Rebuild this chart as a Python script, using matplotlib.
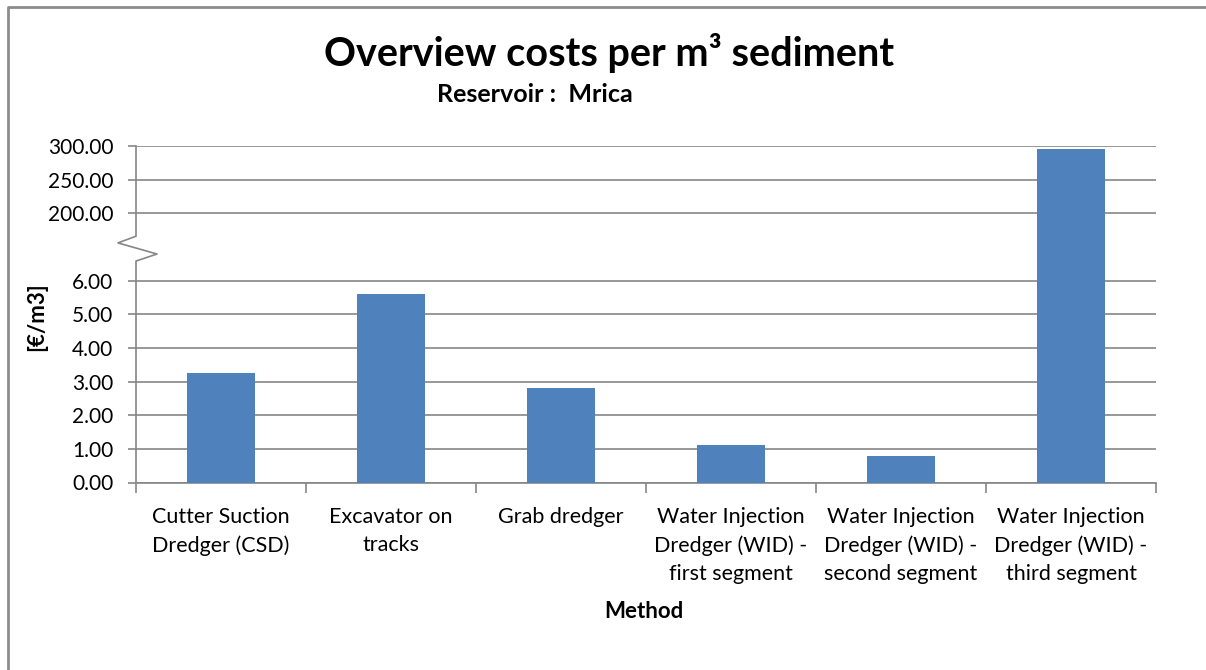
import numpy as np
import matplotlib
matplotlib.use("Agg")
import matplotlib.pyplot as plt
from matplotlib.lines import Line2D

# ---- data ----
categories = [
    "Cutter Suction\nDredger (CSD)",
    "Excavator on\ntracks",
    "Grab dredger",
    "Water Injection\nDredger (WID) -\nfirst segment",
    "Water Injection\nDredger (WID) -\nsecond segment",
    "Water Injection\nDredger (WID) -\nthird segment",
]
costs = [3.24, 5.60, 2.80, 1.12, 0.80, 295.0]
yticks = [0, 1, 2, 3, 4, 5, 6, 200, 250, 300]
ytick_labels = ["0.00", "1.00", "2.00", "3.00", "4.00", "5.00", "6.00",
                "200.00", "250.00", "300.00"]
title = "Overview costs per m³ sediment"
subtitle = "Reservoir :  Mrica"
ylabel = "[€/m3]"
xlabel = "Method"

# ---- broken-axis scale (0-6 linear, 6-200 compressed, 200-300 linear) ----
def fwd(v):
    v = np.asarray(v, dtype=float)
    return np.where(v <= 6, v,
                    np.where(v >= 200, 8 + (v - 200) / 50.0,
                             6 + (v - 6) * 2.0 / 194.0))

def inv(t):
    t = np.asarray(t, dtype=float)
    return np.where(t <= 6, t,
                    np.where(t >= 8, 200 + (t - 8) * 50.0,
                             6 + (t - 6) * 97.0))

plt.rcParams['font.family'] = ['Lato', 'DejaVu Sans']

W, H = 1206, 670
fig = plt.figure(figsize=(W / 100, H / 100), dpi=100)
fig.patch.set_facecolor("white")

left, right, top, bottom = 136, 1156, 146, 482.5
ax = fig.add_axes([left / W, 1 - bottom / H, (right - left) / W, (bottom - top) / H])
ax.set_yscale('function', functions=(fwd, inv))
ax.set_ylim(0, 300)
ax.set_xlim(-0.5, len(categories) - 0.5)

grid_c = "#868686"
x = np.arange(len(categories))
ax.bar(x, costs, width=0.4, color="#4F81BD", zorder=3)

ax.set_yticks(yticks)
ax.set_yticklabels(ytick_labels, fontsize=15)
ax.yaxis.grid(True, color=grid_c, linewidth=1.2, zorder=0)
ax.tick_params(axis='y', length=5.8, width=1.2, color=grid_c, pad=10.5)

ax.set_xticks(x)
ax.set_xticklabels(categories, fontsize=15.5, linespacing=1.5, va='top')
ax.set_xticks(np.arange(-0.5, len(categories)), minor=True)
ax.tick_params(axis='x', which='major', length=0, pad=17.5)
ax.tick_params(axis='x', which='minor', length=7, width=1.2, color=grid_c)

for s in ['top', 'right', 'left']:
    ax.spines[s].set_visible(False)
ax.spines['bottom'].set_color(grid_c)
ax.spines['bottom'].set_linewidth(1.2)

# left spine with break zigzag
axw = right - left
seg_y = [0.0, 0.658, 0.679, 0.712, 0.732, 1.0]
seg_x = [0, 0, 21 / axw, -18 / axw, 0, 0]
ax.add_line(Line2D(seg_x, seg_y, transform=ax.transAxes, color=grid_c,
                   linewidth=1.2, clip_on=False, zorder=4))

fig.text(609 / W, 1 - 53 / H, title, ha='center', va='center',
         fontsize=28.5, fontweight='bold')
fig.text(535 / W, 1 - 95 / H, subtitle, ha='center', va='center',
         fontsize=18, fontweight='bold')
fig.text(37 / W, 1 - 317 / H, ylabel, ha='center', va='center',
         rotation=90, fontsize=16, fontweight='bold')
fig.text(644 / W, 1 - 612 / H, xlabel, ha='center', va='center',
         fontsize=16, fontweight='bold')

# outer chart border (top and left visible)
fig.add_artist(Line2D([8 / W, 8 / W, 1], [0, 1 - 7 / H, 1 - 7 / H],
                      transform=fig.transFigure, color="#8c8c8c", linewidth=2))

fig.savefig("out.png", dpi=100, facecolor="white")
